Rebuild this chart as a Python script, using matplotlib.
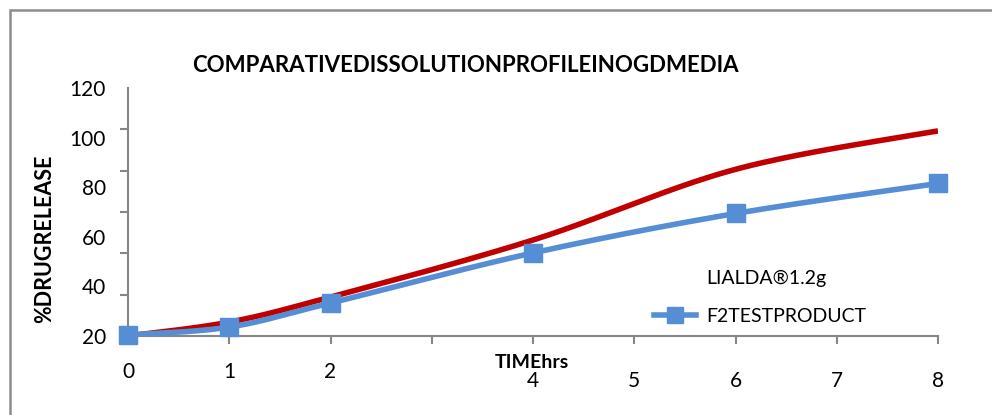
import numpy as np
import matplotlib
matplotlib.use("Agg")
import matplotlib.pyplot as plt
from matplotlib.lines import Line2D
from matplotlib.patches import Rectangle

plt.rcParams['font.family'] = ['Lato', 'DejaVu Sans']

# data
time_hrs = [0, 1, 2, 4, 6, 8]
lialda = [20.0, 25.6, 35.7, 58.7, 87.2, 102.7]
f2_test = [20.4, 23.6, 33.3, 53.5, 69.4, 81.5]
xtick_vals = [0, 1, 2, 3, 4, 5, 6, 7, 8]
xtick_labels = ['0', '1', '2', '', '4', '5', '6', '7', '8']
ytick_vals = [20, 40, 60, 80, 100, 120]
title = 'COMPARATIVEDISSOLUTIONPROFILEINOGDMEDIA'
xlabel = 'TIMEhrs'
ylabel = '%DRUGRELEASE'
series_names = ['LIALDA®1.2g', 'F2TESTPRODUCT']

RED = '#C00000'
BLUE = '#558ED5'
GRAY = '#868686'


def smooth(x, y, n=40):
    # Excel-like smoothed line (Catmull-Rom Bezier through points)
    x = np.asarray(x, float)
    y = np.asarray(y, float)
    P = np.column_stack([x, y])
    out = []
    for i in range(len(P) - 1):
        p0 = P[i - 1] if i > 0 else P[i]
        p1 = P[i]
        p2 = P[i + 1]
        p3 = P[i + 2] if i + 2 < len(P) else P[i + 1]
        c1 = p1 + (p2 - p0) / 6.0
        c2 = p2 - (p3 - p1) / 6.0
        t = np.linspace(0, 1, n)[:, None]
        seg = ((1 - t) ** 3) * p1 + 3 * ((1 - t) ** 2) * t * c1 + 3 * (1 - t) * t ** 2 * c2 + t ** 3 * p2
        out.append(seg if i == 0 else seg[1:])
    S = np.vstack(out)
    return S[:, 0], S[:, 1]


fig = plt.figure(figsize=(9.92, 4.15), dpi=100)
ax = fig.add_axes([128 / 992, (415 - 336) / 415, (938 - 128) / 992, (336 - 88) / 415])

rx, ry = smooth(time_hrs, lialda)
ax.plot(rx, ry, color=RED, lw=4, solid_capstyle='butt', zorder=3)
bx, by = smooth(time_hrs, f2_test)
ax.plot(bx, by, color=BLUE, lw=4, solid_capstyle='butt', zorder=4)
ax.plot(time_hrs, f2_test, ls='none', marker='s', ms=13, color=BLUE, zorder=5, clip_on=False)

ax.set_xlim(0, 8)
ax.set_ylim(20, 120)

for s in ['top', 'right']:
    ax.spines[s].set_visible(False)
for s in ['left', 'bottom']:
    ax.spines[s].set_color(GRAY)
    ax.spines[s].set_linewidth(1.5)

ax.set_yticks(ytick_vals)
ax.set_yticklabels([str(v) for v in ytick_vals])
ax.set_yticks(np.linspace(20, 120, 7), minor=True)
ax.tick_params(axis='y', which='major', length=0, pad=16, labelsize=15)
ax.tick_params(axis='y', which='minor', length=6, width=1.5, color=GRAY)

ax.set_xticks(xtick_vals)
ax.set_xticklabels(xtick_labels)
ax.tick_params(axis='x', which='major', length=6, width=1.5, color=GRAY, labelsize=15, pad=19)
for i, tk in enumerate(ax.xaxis.get_major_ticks()):
    if xtick_vals[i] <= 2:
        tk.set_pad(13)

ax.set_xlabel(xlabel, fontsize=14, fontweight='bold')
ax.xaxis.set_label_coords(0.499, -0.105)
ax.xaxis.label.set_va('center')
ax.set_ylabel(ylabel, fontsize=15.5, fontweight='bold')
ax.yaxis.set_label_coords(-0.1025, 0.391)
ax.yaxis.label.set_va('center')

fig.text(465 / 992, 1 - 65 / 415, title, ha='center', va='center', fontsize=16, fontweight='bold')

h_red = Line2D([], [], color=RED, lw=4, alpha=0)
h_blue = Line2D([], [], color=BLUE, lw=4, marker='s', ms=11)
leg = ax.legend([h_red, h_blue], series_names, loc='upper left',
                bbox_to_anchor=((636 - 128) / 810, (336 - 252) / 248),
                frameon=False, fontsize=14, handlelength=2.2, labelspacing=1.1,
                handletextpad=0.5)

fig.patches.append(Rectangle((10 / 992, -0.1), 1.2, 1 - 10 / 415 + 0.1, transform=fig.transFigure,
                             fill=False, edgecolor='#8c8c8c', lw=1.8))

fig.savefig('out.png', dpi=100)
